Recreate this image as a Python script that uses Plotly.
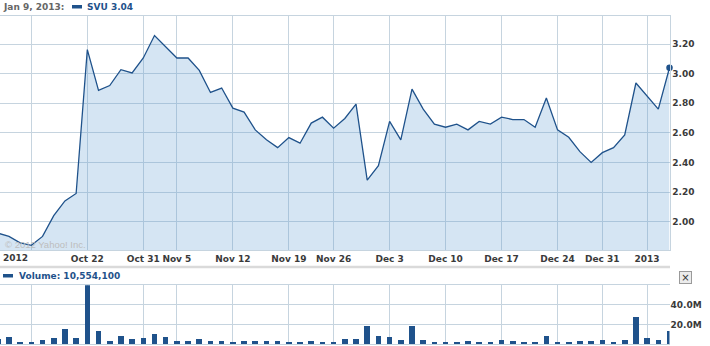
import plotly.graph_objects as go

# Trading-day index (0 = Oct 10 2012 ... 60 = Jan 9 2013)
price = [1.922, 1.90, 1.856, 1.84, 1.90, 2.04, 2.14, 2.19, 3.163, 2.887,
         2.92, 3.027, 3.005, 3.106, 3.258, 3.18, 3.106, 3.106, 3.022, 2.873,
         2.903, 2.767, 2.74, 2.62, 2.553, 2.50, 2.568, 2.53, 2.666, 2.706,
         2.632, 2.697, 2.794, 2.281, 2.378, 2.677, 2.553, 2.896, 2.76, 2.659,
         2.638, 2.659, 2.62, 2.677, 2.659, 2.706, 2.69, 2.69, 2.638, 2.835,
         2.62, 2.57, 2.473, 2.40, 2.466, 2.50, 2.586, 2.937, 2.85, 2.76, 3.04]

volume_m = [5.0, 7.4, 2.4, 2.4, 4.4, 6.4, 15.5, 6.4, 62.0, 13.5,
            3.4, 8.4, 5.4, 6.4, 10.4, 7.4, 3.4, 3.4, 5.4, 3.4,
            3.4, 1.7, 2.7, 3.4, 3.4, 2.7, 1.7, 1.7, 3.4, 1.7,
            2.4, 5.4, 5.4, 18.5, 8.4, 7.4, 4.4, 18.5, 4.4, 2.4,
            2.4, 2.4, 3.4, 2.4, 2.4, 4.4, 3.4, 2.4, 2.4, 8.4,
            2.4, 2.4, 3.4, 3.4, 4.4, 2.4, 4.4, 27.6, 6.4, 4.4, 13.0]

tick_idx = [3, 8, 13, 16, 21, 26, 30, 35, 40, 45, 50, 54, 58]
tick_text = ["", "Oct 22", "Oct 31", "Nov 5", "Nov 12", "Nov 19", "Nov 26",
             "Dec 3", "Dec 10", "Dec 17", "Dec 24", "Dec 31", "2013"]
first_label = "2012"

price_ticks = [2.00, 2.20, 2.40, 2.60, 2.80, 3.00, 3.20]
vol_ticks = [20, 40]
vol_tick_text = ["20.0M", "40.0M"]

header_date = "Jan 9, 2013:"
header_sym = "SVU 3.04"
vol_header = "Volume: 10,554,100"
watermark = "© 2012 Yahoo! Inc."

x = list(range(len(price)))

BLUE = "#1f528b"
GRID = "#c6d4df"
LBL = "#3a3a3a"
FONT = "DejaVu Sans"

W, H = 710, 346
def py(px):
    return (H - px) / H
def px_(p):
    return p / W

fig = go.Figure()
fig.add_trace(go.Scatter(x=x, y=price, mode="lines",
                         line=dict(color=BLUE, width=1.3),
                         fill="tozeroy", fillcolor="rgba(100,160,210,0.27)",
                         xaxis="x", yaxis="y", hoverinfo="skip"))
fig.add_trace(go.Scatter(x=[x[-1]], y=[price[-1]], mode="markers",
                         marker=dict(color=BLUE, size=6.5), cliponaxis=False,
                         xaxis="x", yaxis="y", hoverinfo="skip"))
fig.add_trace(go.Bar(x=x, y=volume_m, width=0.5, marker=dict(color=BLUE, line=dict(width=0)),
                     xaxis="x2", yaxis="y2", hoverinfo="skip"))

xdom = [0, 669.5 / W]
xrange = [0.2, 60.0]
tickfont = dict(family=FONT, size=9, color=LBL, weight="bold")

fig.update_layout(
    template="none",
    width=W, height=H,
    margin=dict(l=0, r=0, t=0, b=0),
    paper_bgcolor="white", plot_bgcolor="white",
    showlegend=False,
    xaxis=dict(domain=xdom, range=xrange, anchor="y",
               tickmode="array", tickvals=tick_idx, ticktext=tick_text,
               showgrid=True, gridcolor=GRID, gridwidth=1,
               showline=True, linecolor=GRID, linewidth=1, mirror=True,
               ticks="", tickfont=tickfont, zeroline=False, automargin=False),
    yaxis=dict(domain=[py(250), py(15.7)], range=[1.808, 3.392], side="right",
               tickmode="array", tickvals=price_ticks,
               ticktext=[f"{v:.2f}" for v in price_ticks],
               showgrid=True, gridcolor=GRID, gridwidth=1,
               showline=True, linecolor=GRID, linewidth=1,
               ticks="", tickfont=tickfont, zeroline=False, automargin=False),
    xaxis2=dict(domain=xdom, range=xrange, anchor="y2",
                tickmode="array", tickvals=tick_idx, showticklabels=False,
                showgrid=True, gridcolor=GRID, gridwidth=1,
                showline=True, linecolor=GRID, linewidth=1, mirror=True,
                ticks="", zeroline=False, automargin=False),
    yaxis2=dict(domain=[py(344.3), py(285.3)], range=[0, 60], side="right",
                tickmode="array", tickvals=vol_ticks, ticktext=vol_tick_text,
                showgrid=True, gridcolor=GRID, gridwidth=1,
                ticks="", tickfont=tickfont, zeroline=False, automargin=False),
    bargap=0,
)

shapes = [
    # legend swatches
    dict(type="rect", xref="paper", yref="paper", x0=px_(72), x1=px_(82),
         y0=py(8.5), y1=py(5), fillcolor=BLUE, line=dict(width=0)),
    dict(type="rect", xref="paper", yref="paper", x0=px_(3), x1=px_(13),
         y0=py(277.5), y1=py(274), fillcolor=BLUE, line=dict(width=0)),
    # separator band
    dict(type="rect", xref="paper", yref="paper", x0=0, x1=px_(670),
         y0=py(268.3), y1=py(265.8), fillcolor="#dadada", line=dict(width=0)),
]
fig.update_layout(shapes=shapes)

ann = [
    dict(text=header_date, x=px_(1), y=py(7), xanchor="left", yanchor="middle",
         font=dict(family=FONT, size=9, color="#666666", weight="bold")),
    dict(text=header_sym, x=px_(85), y=py(7), xanchor="left", yanchor="middle",
         font=dict(family=FONT, size=9, color=BLUE, weight="bold")),
    dict(text=vol_header, x=px_(17), y=py(276), xanchor="left", yanchor="middle",
         font=dict(family=FONT, size=9, color=BLUE, weight="bold")),
    dict(text=watermark, x=px_(3), y=py(244), xanchor="left", yanchor="middle",
         font=dict(family="Liberation Sans", size=9.5, color="#bdbdbd")),
    dict(text=first_label, x=px_(1), y=py(258), xanchor="left", yanchor="middle",
         font=dict(family=FONT, size=9, color=LBL, weight="bold")),
    dict(text="×", x=px_(685.5), y=py(277), xanchor="center", yanchor="middle",
         font=dict(family=FONT, size=10, color="#333333"),
         bgcolor="#ececec", bordercolor="#9a9a9a", borderwidth=1, borderpad=1,
         width=9, height=9),
]
for a in ann:
    a.update(xref="paper", yref="paper", showarrow=False)
fig.update_layout(annotations=ann)

fig.write_html("out.html")
